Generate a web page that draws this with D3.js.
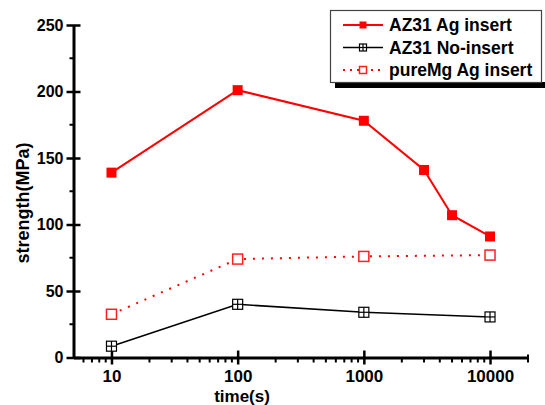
<!DOCTYPE html>
<html>
<head>
<meta charset="utf-8">
<script src="https://cdn.jsdelivr.net/npm/d3@7"></script>
<style>
  body { margin: 0; background: #fff; }
  svg { display: block; font-family: "Liberation Sans", Arial, sans-serif; font-weight: bold; }
</style>
</head>
<body>
<div class="chart"></div>
<script>
// values
const az31AgTime = [10, 100, 1000, 3000, 5000, 10000];
const az31AgStrength = [139, 201, 178, 141, 107, 91];
const noInsertTime = [10, 100, 1000, 10000];
const noInsertStrength = [8.5, 40, 34, 30.5];
const pureMgTime = [10, 100, 1000, 10000];
const pureMgStrength = [32.5, 74, 76, 77];

const xTicks = [10, 100, 1000, 10000];
const xMinorTicks = [6, 7, 8, 9, 20, 30, 40, 50, 60, 70, 80, 90, 200, 300, 400, 500, 600, 700, 800, 900,
  2000, 3000, 4000, 5000, 6000, 7000, 8000, 9000, 20000];
const yTicks = [0, 50, 100, 150, 200, 250];
const yMinorTicks = [25, 75, 125, 175, 225];
const legendLabels = ["AZ31 Ag insert", "AZ31 No-insert", "pureMg Ag insert"];

const w = 545, h = 405;
const plotLeft = 73.5, plotRight = 528, plotTop = 25, plotBottom = 357.5;

const svg = d3.select(".chart").append("svg").attr("width", w).attr("height", h);

const x = d3.scaleLog().domain([5, 20000]).range([plotLeft, plotRight]);
const y = d3.scaleLinear().domain([0, 250]).range([plotBottom, plotTop]);

// y axis, major ticks cross the line
const yAxis = svg.append("g")
  .attr("transform", "translate(" + plotLeft + ",0)")
  .call(d3.axisLeft(y).tickValues(yTicks).tickSize(7).tickSizeOuter(0).tickPadding(3));
yAxis.selectAll(".tick line").attr("x2", -7).attr("x1", 7);
yAxis.selectAll(".tick text").style("font-size", "16px").style("font-weight", "bold").attr("fill", "#000");
yAxis.selectAll("line, path").attr("stroke", "#000").attr("stroke-width", 2.5);
yAxis.select(".domain").attr("stroke-width", 3);

svg.append("g").selectAll("line").data(yMinorTicks).join("line")
  .attr("x1", plotLeft - 4).attr("x2", plotLeft)
  .attr("y1", (d) => y(d)).attr("y2", (d) => y(d))
  .attr("stroke", "#000").attr("stroke-width", 2);

// x axis (log)
const xAxis = svg.append("g")
  .attr("transform", "translate(0," + plotBottom + ")")
  .call(d3.axisBottom(x).tickValues(xTicks).tickFormat(d3.format("d")).tickSize(7).tickSizeOuter(0).tickPadding(5.5));
xAxis.selectAll(".tick line").attr("y1", -7).attr("y2", 7);
xAxis.selectAll(".tick text").style("font-size", "17px").style("font-weight", "bold").attr("fill", "#000");
xAxis.selectAll("line, path").attr("stroke", "#000").attr("stroke-width", 2.5);
xAxis.select(".domain").attr("stroke-width", 3);

svg.append("g").selectAll("line").data(xMinorTicks).join("line")
  .attr("x1", (d) => x(d)).attr("x2", (d) => x(d))
  .attr("y1", (d) => d === 20000 ? plotBottom - 3 : plotBottom)
  .attr("y2", plotBottom + 5)
  .attr("stroke", "#000").attr("stroke-width", 2);

// axis titles
svg.append("text")
  .attr("x", 242).attr("y", 401.5)
  .attr("text-anchor", "middle")
  .style("font-size", "17px")
  .text("time(s)");

svg.append("text")
  .attr("transform", "translate(29,203) rotate(-90)")
  .attr("text-anchor", "middle")
  .style("font-size", "18px")
  .text("strength(MPa)");

const line = d3.line().x((d) => x(d[0])).y((d) => y(d[1]));

// series lines
svg.append("path")
  .datum(d3.zip(noInsertTime, noInsertStrength))
  .attr("d", line).attr("fill", "none").attr("stroke", "#000").attr("stroke-width", 1.6);

svg.append("path")
  .datum(d3.zip(pureMgTime, pureMgStrength))
  .attr("d", line).attr("fill", "none").attr("stroke", "#ff0000")
  .attr("stroke-width", 2).attr("stroke-dasharray", "2,7");

svg.append("path")
  .datum(d3.zip(az31AgTime, az31AgStrength))
  .attr("d", line).attr("fill", "none").attr("stroke", "#ff0000").attr("stroke-width", 2);

// markers
function filledSquare(g, cx, cy, s) {
  g.append("rect").attr("x", cx - s / 2).attr("y", cy - s / 2).attr("width", s).attr("height", s)
    .attr("fill", "#ff0000");
}
function hollowSquare(g, cx, cy, s) {
  g.append("rect").attr("x", cx - s / 2).attr("y", cy - s / 2).attr("width", s).attr("height", s)
    .attr("fill", "#fff").attr("stroke", "#ff2020").attr("stroke-width", 1.5);
}
function crossSquare(g, cx, cy, s) {
  g.append("rect").attr("x", cx - s / 2).attr("y", cy - s / 2).attr("width", s).attr("height", s)
    .attr("fill", "#fff").attr("stroke", "#000").attr("stroke-width", 1.2);
  g.append("line").attr("x1", cx).attr("x2", cx).attr("y1", cy - s / 2).attr("y2", cy + s / 2)
    .attr("stroke", "#000").attr("stroke-width", 1.2);
  g.append("line").attr("x1", cx - s / 2).attr("x2", cx + s / 2).attr("y1", cy).attr("y2", cy)
    .attr("stroke", "#000").attr("stroke-width", 1.2);
}

const marks = svg.append("g");
d3.zip(noInsertTime, noInsertStrength).forEach((d) => crossSquare(marks, x(d[0]), y(d[1]), 10));
d3.zip(pureMgTime, pureMgStrength).forEach((d) => hollowSquare(marks, x(d[0]), y(d[1]), 10));
d3.zip(az31AgTime, az31AgStrength).forEach((d) => filledSquare(marks, x(d[0]), y(d[1]), 10));

// legend with drop shadow
const legend = svg.append("g");
legend.append("rect").attr("x", 335).attr("y", 82).attr("width", 210).attr("height", 6).attr("fill", "#000");
legend.append("rect").attr("x", 330.5).attr("y", 10.5).attr("width", 211).attr("height", 72)
  .attr("fill", "#fff").attr("stroke", "#444").attr("stroke-width", 1.2);

const rowY = [25, 47.5, 70];
const styles = [
  { stroke: "#ff0000", dash: null, width: 2, mark: filledSquare },
  { stroke: "#000", dash: null, width: 1.6, mark: crossSquare },
  { stroke: "#ff0000", dash: "2,5", width: 2, mark: hollowSquare }
];
legendLabels.forEach((label, i) => {
  const s = styles[i];
  legend.append("line")
    .attr("x1", 343).attr("x2", 383).attr("y1", rowY[i]).attr("y2", rowY[i])
    .attr("stroke", s.stroke).attr("stroke-width", s.width)
    .attr("stroke-dasharray", s.dash);
  s.mark(legend, 363, rowY[i], 7);
  legend.append("text")
    .attr("x", 389).attr("y", rowY[i]).attr("dy", "0.36em")
    .style("font-size", "17.5px")
    .text(label);
});
</script>
</body>
</html>
